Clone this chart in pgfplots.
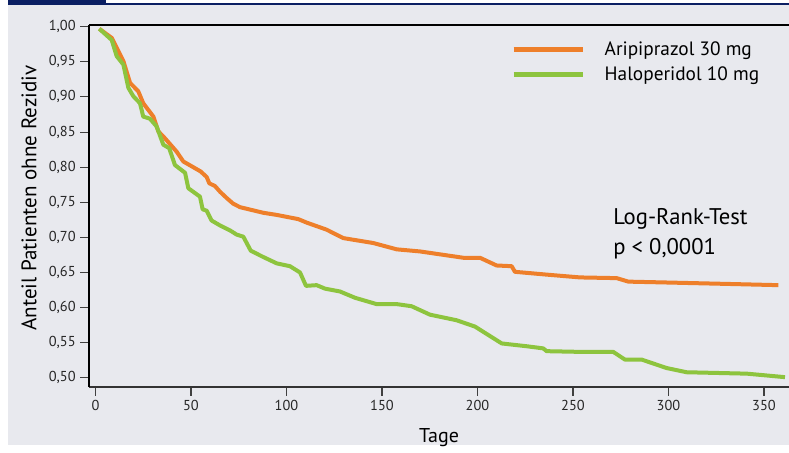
\documentclass[border=0pt]{standalone}
\usepackage{pgfplots}
\pgfplotsset{compat=1.18}
\usepackage{fontspec}
\setmainfont{PT Sans}
\definecolor{bg}{HTML}{E8E9EE}
\definecolor{navy}{HTML}{0B1F63}
\definecolor{orng}{HTML}{EE7F2A}
\definecolor{grn}{HTML}{8DC43E}
\begin{document}
\begin{tikzpicture}
\useasboundingbox (0,0) rectangle (591.75pt,339.75pt);
\fill[white] (0,0) rectangle (591.75pt,339.75pt);
\fill[bg] (6pt,6pt) rectangle (591.75pt,336pt);
\fill[navy] (6pt,336pt) rectangle (79.5pt,339.75pt);
\fill[navy] (79.5pt,336pt) rectangle (591.75pt,337.2pt);
\begin{axis}[
  at={(66.75pt,49.5pt)}, anchor=south west,
  scale only axis, width=525pt, height=271.5pt,
  xmin=-3.4, xmax=363.1, ymin=0.487, ymax=1.0024,
  axis x line=bottom, axis y line=left,
  x axis line style={-, draw=black!80, line width=1pt},
  y axis line style={-, draw=black, line width=0.9pt},
  xtick={0,50,100,150,200,250,300,350},
  ytick={0.50,0.55,0.60,0.65,0.70,0.75,0.80,0.85,0.90,0.95,1.00},
  tick align=outside, major tick length=6.5pt,
  tick style={draw=black!75, line width=0.8pt},
  /pgf/number format/assume math mode=true,
  yticklabel style={/pgf/number format/.cd, fixed, fixed zerofill, precision=2, use comma},
  xticklabel style={/pgf/number format/.cd, fixed, precision=0},
  ticklabel style={font=\fontsize{10.8}{12}\selectfont, text=black!85},
  xlabel={Tage}, ylabel={Anteil Patienten ohne Rezidiv},
  every axis x label/.style={at={(axis description cs:0.5,-0.14)}, anchor=center, font=\fontsize{15}{16}\selectfont},
  every axis y label/.style={at={(axis description cs:-0.0857,0.522)}, rotate=90, anchor=center, font=\fontsize{15.8}{17}\selectfont},
  legend style={at={(axis description cs:0.5971,0.97)}, anchor=north west, draw=none, fill=none,
    font=\fontsize{14.5}{16}\selectfont, row sep=3pt, /tikz/every odd column/.append style={column sep=12.5pt}},
  legend cell align=left,
  legend image code/.code={\draw[#1, line width=3.6pt] (0pt,0pt) -- (52pt,0pt);},
  clip=true,
]
\addplot[orng, line width=3pt, line join=round] coordinates {
(2,0.997)(8.5,0.984)(14.6,0.951)(18.1,0.920)(22.4,0.908)(25,0.891)(30.3,0.872)(32.9,0.851)(36.4,0.841)(42.5,0.822)(46,0.808)(55,0.794)(58.2,0.786)(59.6,0.777)(62.6,0.773)(65.2,0.765)(68.7,0.756)(72.1,0.748)(75.7,0.743)(87.9,0.735)(94.9,0.732)(106.2,0.726)(110.6,0.721)(121,0.711)(129.7,0.699)(145.4,0.692)(157.7,0.683)(169.9,0.680)(192.6,0.671)(201.3,0.671)(210,0.660)(217.9,0.659)(219.6,0.651)(236.2,0.647)(253.7,0.643)(272.9,0.642)(279,0.637)(295.5,0.636)(327,0.634)(357.5,0.632)
};
\addlegendentry{Aripiprazol 30 mg}
\addplot[grn, line width=3pt, line join=round] coordinates {
(2,0.997)(8.5,0.981)(11.1,0.958)(14.6,0.946)(17.2,0.913)(19.8,0.901)(23.3,0.891)(25,0.872)(28.5,0.869)(32,0.858)(35.5,0.832)(38.6,0.827)(41.6,0.803)(46.9,0.792)(48.6,0.770)(54.7,0.758)(56.1,0.740)(58.2,0.738)(60.8,0.724)(65.2,0.717)(70.4,0.710)(73.9,0.704)(77.4,0.701)(81.3,0.681)(87.9,0.672)(94.9,0.663)(101.8,0.659)(107.1,0.650)(110.2,0.631)(115.8,0.632)(120.2,0.627)(128,0.623)(135.9,0.614)(147.2,0.605)(157.7,0.605)(165.5,0.602)(175.1,0.590)(189.1,0.582)(198.7,0.573)(212.7,0.549)(225.8,0.545)(234.4,0.542)(236.2,0.538)(253.7,0.537)(271.1,0.537)(277.2,0.526)(286,0.526)(299,0.514)(309.5,0.508)(341,0.506)(361,0.501)
};
\addlegendentry{Haloperidol 10 mg}
\draw[black, line width=0.9pt] (rel axis cs:0,1) -- (rel axis cs:1,1);
\node[anchor=base west, inner sep=0pt, font=\fontsize{17}{20}\selectfont] at (axis cs:271,0.718) {Log-Rank-Test};
\node[anchor=base west, inner sep=0pt, font=\fontsize{17}{20}\selectfont] at (axis cs:271,0.675) {p < 0,0001};
\end{axis}
\end{tikzpicture}
\end{document}
